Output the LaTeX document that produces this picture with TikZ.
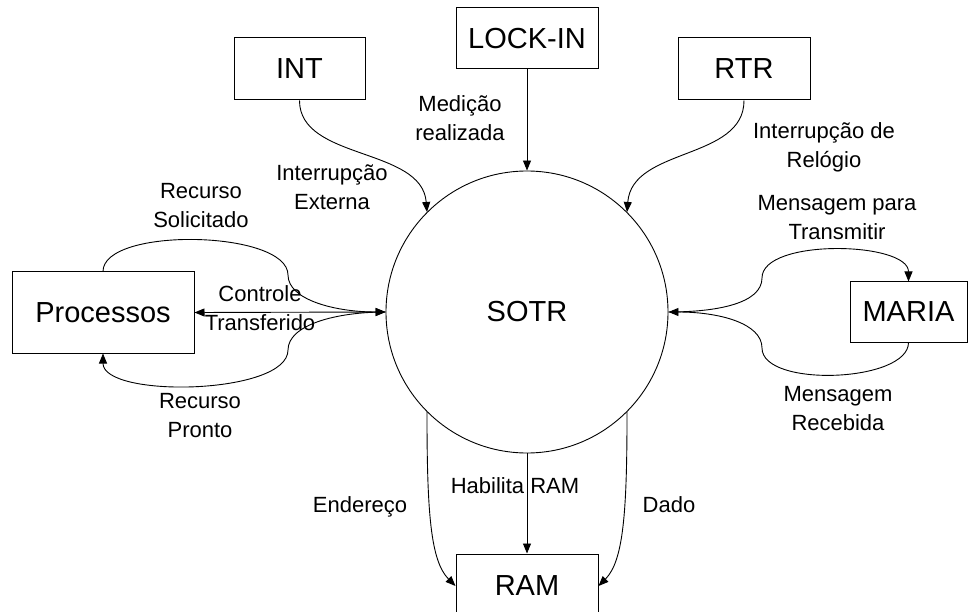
\documentclass[tikz,border=0pt]{standalone}
\usepackage{fontspec}
\setmainfont{Liberation Sans}
\usetikzlibrary{arrows.meta}
\tikzset{
  >={Triangle[length=10pt,width=8pt]},
  box/.style={draw, line width=1pt, inner sep=0pt, font=\fontsize{29}{31}\selectfont},
  flow/.style={->, line width=0.9pt},
  lbl/.style={align=center, inner sep=0pt, font=\fontsize{22}{29}\selectfont}
}
\begin{document}
\begin{tikzpicture}[x=1pt, y=-1pt]
  \clip (0,0) rectangle (969,612);
  \fill[white] (0,0) rectangle (969,612);
  \node[circle, draw, line width=0.9pt, minimum size=282pt, inner sep=0pt, font=\fontsize{29}{31}\selectfont] (sotr) at (527,312) {SOTR};
  \node[box, minimum width=131pt, minimum height=62pt] (int) at (299.5,69) {INT};
  \node[box, minimum width=142pt, minimum height=61pt] (lock) at (527,38.5) {LOCK-IN};
  \node[box, minimum width=132pt, minimum height=62pt] (rtr) at (744,69) {RTR};
  \node[box, minimum width=182pt, minimum height=81pt] (proc) at (103,312.5) {Processos};
  \node[box, minimum width=117pt, minimum height=60pt] (maria) at (908.5,312) {MARIA};
  \node[box, minimum width=142pt, minimum height=64pt] (ram) at (527,586) {RAM};
  \coordinate (solA) at (288,275);
  \coordinate (proB) at (288,350);
  \coordinate (mtA) at (762,278);
  \coordinate (mrB) at (762,348);
  \draw[flow] (int.south) .. controls +(0,60) and +(-5,-65) .. (sotr.135);
  \draw[flow] (lock.south) -- (sotr.north);
  \draw[flow] (rtr.south) .. controls +(0,60) and +(5,-65) .. (sotr.45);
  \draw[flow] (proc.north) .. controls +(0,-45) and +(0,-45) .. (solA)
    .. controls +(0,25) and +(-50,0) .. (sotr.west);
  \draw[<->, line width=0.9pt] (proc.east) -- (sotr.west);
  \draw[flow] (sotr.west) .. controls +(-50,0) and +(0,-25) .. (proB)
    .. controls +(0,45) and +(0,45) .. (proc.south);
  \draw[flow] (sotr.east) .. controls +(50,0) and +(0,25) .. (mtA)
    .. controls +(0,-40) and +(0,-40) .. (maria.north);
  \draw[flow] (maria.south) .. controls +(0,40) and +(0,40) .. (mrB)
    .. controls +(0,-25) and +(50,0) .. (sotr.east);
  \draw[flow] (sotr.225) .. controls +(0,100) and +(-25,-25) .. (ram.west);
  \draw[flow] (sotr.south) -- (ram.north);
  \draw[flow] (sotr.-45) .. controls +(0,100) and +(25,-25) .. (ram.east);
  \node[lbl] (lmed) at (460,118) {Medição\\realizada};
  \node[lbl] (lint) at (332,187) {Interrupção\\Externa};
  \node[lbl] (lrtr) at (824,147) {Interrupção de\\Relógio};
  \node[lbl] (lsol) at (201,206) {Recurso\\Solicitado};
  \node[lbl] (lctl) at (260,308) {Controle\\Transferido};
  \node[lbl] (lpro) at (200,416) {Recurso\\Pronto};
  \node[lbl] (ltx) at (837,218) {Mensagem para\\Transmitir};
  \node[lbl] (lrx) at (838,409) {Mensagem\\Recebida};
  \node[lbl] (lend) at (360,507) {Endereço};
  \node[lbl] (lhab) at (515,486) {Habilita RAM};
  \node[lbl] (ldad) at (669,505) {Dado};
\end{tikzpicture}
\end{document}
